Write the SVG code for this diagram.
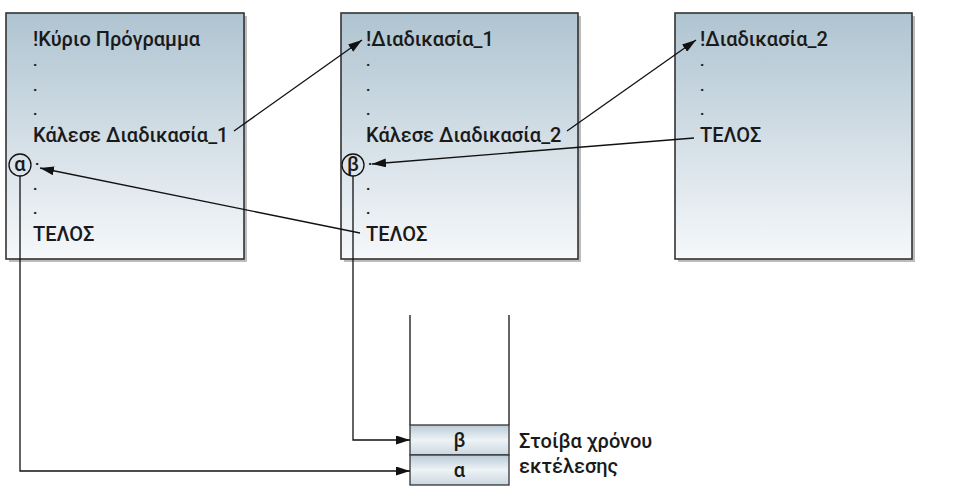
<svg xmlns="http://www.w3.org/2000/svg" width="954" height="504" viewBox="0 0 954 504">
<defs>
<linearGradient id="boxg" x1="0" y1="0" x2="0" y2="1">
<stop offset="0" stop-color="#afc4d1"/>
<stop offset="1" stop-color="#f6f8fa"/>
</linearGradient>
<linearGradient id="cellg" x1="0" y1="0" x2="0" y2="1">
<stop offset="0" stop-color="#b9cbd7"/>
<stop offset="0.5" stop-color="#eef3f6"/>
<stop offset="1" stop-color="#c9d7e0"/>
</linearGradient>
<marker id="ah" viewBox="0 0 14 9" refX="14" refY="4.5" markerWidth="14" markerHeight="9" markerUnits="userSpaceOnUse" orient="auto">
<path d="M0,0 L14,4.5 L0,9 Z" fill="#111"/>
</marker>
</defs>
<style>
.box{fill:url(#boxg);stroke:#333;stroke-width:1.6}
.shadow{fill:#8f8f8f;opacity:0.6}
.t{font-family:Roboto,"Noto Sans","Liberation Sans",sans-serif;font-size:20px;font-weight:500;fill:#1a1a1a}
.d{font-family:Roboto,"Noto Sans","Liberation Sans",sans-serif;font-size:15px;font-weight:700;fill:#1a1a1a}
.c{fill:none;stroke:#111;stroke-width:1.3}
.circ{fill:none;stroke:#111;stroke-width:1.3}
.cell{fill:url(#cellg);stroke:#333;stroke-width:1.3}
</style>

<g id="main">
<rect class="shadow" x="9" y="16" width="238" height="246"/>
<rect class="box" x="6" y="13" width="238" height="246"/>
<text class="t" x="33" y="46">!Κύριο Πρόγραμμα</text>
<text class="d" x="33" y="66">.</text>
<text class="d" x="33" y="91">.</text>
<text class="d" x="33" y="115">.</text>
<text class="t" x="33" y="142">Κάλεσε Διαδικασία_1</text>
<circle class="circ" cx="20" cy="165" r="11"/>
<text class="t" x="20" y="171" text-anchor="middle">α</text>
<text class="d" x="35" y="165">.</text>
<text class="d" x="33" y="190">.</text>
<text class="d" x="33" y="214">.</text>
<text class="t" x="33" y="241">ΤΕΛΟΣ</text>
</g>

<g id="proc1">
<rect class="shadow" x="344" y="16" width="237" height="246"/>
<rect class="box" x="341" y="13" width="237" height="246"/>
<text class="t" x="366" y="46">!Διαδικασία_1</text>
<text class="d" x="366" y="66">.</text>
<text class="d" x="366" y="91">.</text>
<text class="d" x="366" y="115">.</text>
<text class="t" x="366" y="142">Κάλεσε Διαδικασία_2</text>
<circle class="circ" cx="353" cy="165" r="11"/>
<text class="t" x="353" y="171" text-anchor="middle">β</text>
<text class="d" x="368" y="165">.</text>
<text class="d" x="366" y="190">.</text>
<text class="d" x="366" y="214">.</text>
<text class="t" x="366" y="241">ΤΕΛΟΣ</text>
</g>

<g id="proc2">
<rect class="shadow" x="678" y="16" width="237" height="246"/>
<rect class="box" x="675" y="13" width="237" height="246"/>
<text class="t" x="700" y="46">!Διαδικασία_2</text>
<text class="d" x="700" y="66">.</text>
<text class="d" x="700" y="91">.</text>
<text class="d" x="700" y="115">.</text>
<text class="t" x="700" y="142">ΤΕΛΟΣ</text>
</g>

<g id="stack">
<line class="c" x1="410" y1="315" x2="410" y2="425"/>
<line class="c" x1="509" y1="315" x2="509" y2="425"/>
<rect class="cell" x="410" y="425" width="99" height="30"/>
<rect class="cell" x="410" y="455" width="99" height="30"/>
<text class="t" x="459.5" y="447" text-anchor="middle">β</text>
<text class="t" x="459.5" y="477" text-anchor="middle">α</text>
<text class="t" x="519" y="448">Στοίβα χρόνου</text>
<text class="t" x="519" y="473">εκτέλεσης</text>
</g>

<g id="connectors">
<line class="c" x1="234" y1="131" x2="362" y2="40" marker-end="url(#ah)"/>
<line class="c" x1="567" y1="131" x2="696" y2="40" marker-end="url(#ah)"/>
<line class="c" x1="694" y1="138" x2="372" y2="164" marker-end="url(#ah)"/>
<line class="c" x1="360" y1="233" x2="40" y2="168" marker-end="url(#ah)"/>
<polyline class="c" points="20,176 20,471 410,471" marker-end="url(#ah)"/>
<polyline class="c" points="353,176 353,440 410,440" marker-end="url(#ah)"/>
</g>
</svg>
